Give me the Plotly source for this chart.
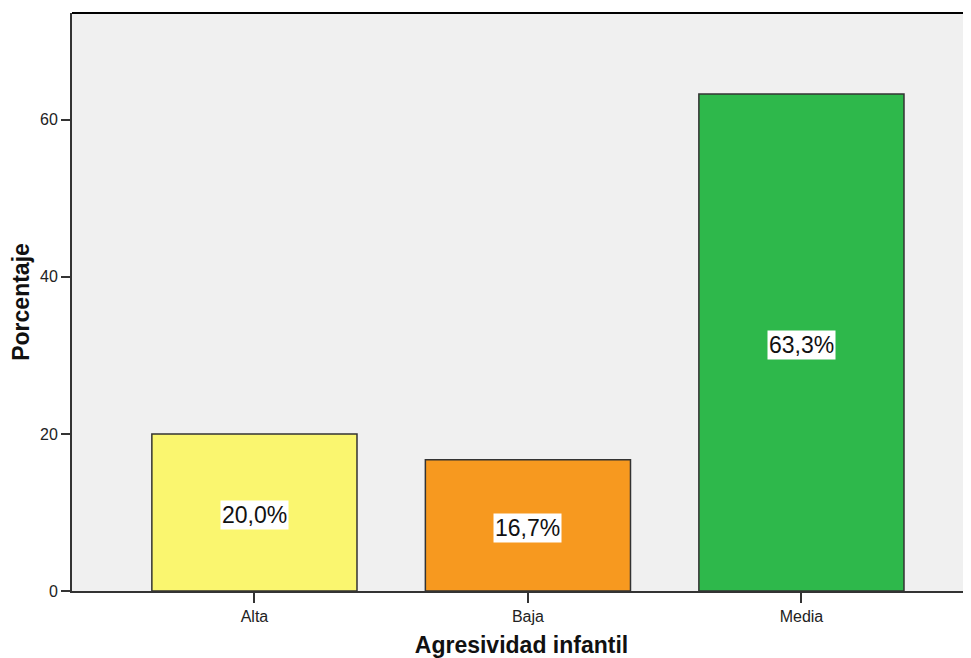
import plotly.graph_objects as go

categorias = ["Alta", "Baja", "Media"]
porcentajes = [20.0, 16.7, 63.3]
colores = ["#FAF66F", "#F7991F", "#2EB84B"]
etiquetas = ["20,0%", "16,7%", "63,3%"]

fig = go.Figure()
fig.add_trace(go.Bar(
    x=categorias, y=porcentajes, width=0.75,
    marker=dict(color=colores, line=dict(color="#333333", width=1.5)),
    hoverinfo="skip",
))

# etiquetas en cajas blancas a media altura de cada barra
for c, v, t in zip(categorias, porcentajes, etiquetas):
    fig.add_annotation(x=c, y=v / 2, text=t, showarrow=False, yshift=-3,
                       bgcolor="white", borderpad=1,
                       font=dict(family="Liberation Sans, Arial", size=23, color="#111111"))

# borde superior del area del grafico
fig.add_shape(type="line", xref="paper", yref="paper", x0=0, x1=1, y0=1, y1=1,
              line=dict(color="black", width=2))

# la pagina tiene 8px de margen en el body, se compensa en tamano y margenes
fig.update_layout(
    width=963, height=650,
    margin=dict(l=64, r=0, t=5, b=67),
    paper_bgcolor="white", plot_bgcolor="#F0F0F0",
    showlegend=False,
    font=dict(family="Liberation Sans, Arial", size=16, color="#222222"),
    xaxis=dict(
        range=[-0.667, 2.62],
        showgrid=False, zeroline=False,
        showline=True, linecolor="#333333", linewidth=2,
        ticks="outside", ticklen=10, tickcolor="#333333", tickwidth=2,
        tickfont=dict(size=16),
        title=dict(text="<b>Agresividad infantil</b>", font=dict(size=23, color="#111111"), standoff=14),
    ),
    yaxis=dict(
        range=[0, 73.6],
        tickvals=[0, 20, 40, 60],
        showgrid=False, zeroline=False,
        showline=True, linecolor="#333333", linewidth=2,
        ticks="outside", ticklen=9, tickcolor="#333333", tickwidth=2,
        tickfont=dict(size=16),
        title=dict(text="<b>Porcentaje</b>", font=dict(size=23, color="#111111"), standoff=14),
    ),
)

fig.write_html("out.html")
